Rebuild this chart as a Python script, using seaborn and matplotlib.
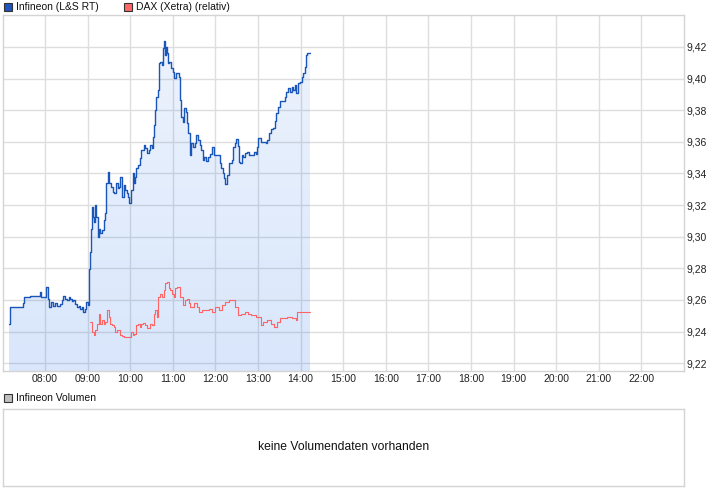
import numpy as np
import pandas as pd
import matplotlib
matplotlib.use("Agg")
import matplotlib.pyplot as plt
from matplotlib.patches import Rectangle
import seaborn as sns

# Infineon (L&S RT): minutes after 07:00 and price
inf_min = [9.2, 10.1, 11.1, 27.1, 28.5, 30.3, 38.8, 52.0, 52.9, 54.4, 61.0, 61.9, 63.8, 66.1,
           68.5, 70.8, 74.1, 77.4, 81.2, 84.5, 85.9, 88.2, 90.6, 93.0, 95.3, 97.6, 100.0,
           102.4, 104.7, 107.1, 109.4, 111.8, 114.1, 116.5, 117.9, 119.8, 121.2, 122.6,
           124.5, 125.9, 127.3, 128.7, 130.6, 132.0, 133.9, 135.3, 137.6, 140.0, 142.4,
           144.7, 146.1, 148.5, 150.3, 152.7, 155.1, 157.4, 160.2, 162.1, 164.5, 165.9,
           168.2, 170.6, 173.0, 175.3, 177.2, 178.6, 181.0, 183.3, 184.7, 186.1, 188.5,
           190.8, 193.2, 195.5, 198.8, 201.2, 203.5, 205.9, 208.2, 210.6, 212.0, 213.9,
           215.3, 216.7, 218.6, 220.0, 222.4, 224.7, 226.1, 227.1, 228.5, 229.9, 231.3,
           233.2, 235.1, 237.4, 239.8, 242.1, 244.5, 246.8, 248.2, 249.6, 251.5, 253.9,
           256.2, 258.6, 260.0, 261.4, 263.8, 265.6, 268.0, 270.8, 273.2, 275.1, 277.9,
           280.2, 282.1, 284.5, 286.8, 289.6, 292.0, 295.3, 297.6, 303.3, 305.7, 308.0,
           310.4, 312.7, 314.1, 316.5, 318.4, 320.2, 322.6, 325.0, 327.3, 329.2, 331.1,
           333.0, 334.8, 336.7, 339.1, 341.4, 343.8, 347.1, 350.8, 354.1, 356.5, 358.8,
           360.2, 363.5, 367.3, 370.6, 373.0, 375.3, 378.6, 381.4, 383.3, 385.7, 388.0,
           390.8, 394.1, 397.4, 399.8, 402.6, 404.9, 407.3, 409.7, 412.0, 413.9, 416.2,
           419.1, 421.4, 423.3, 425.7, 427.5, 429.4, 431.3, 432.7]
inf_val = [9.2451, 9.2504, 9.2557, 9.2557, 9.2578, 9.2620, 9.2624, 9.2624, 9.2652, 9.2620,
           9.2620, 9.2679, 9.2609, 9.2557, 9.2588, 9.2561, 9.2582, 9.2561, 9.2574, 9.2599,
           9.2624, 9.2609, 9.2599, 9.2620, 9.2609, 9.2595, 9.2599, 9.2574, 9.2557, 9.2561,
           9.2540, 9.2553, 9.2525, 9.2546, 9.2588, 9.2567, 9.2799, 9.2905, 9.3052, 9.3190,
           9.3126, 9.3094, 9.3200, 9.3126, 9.2999, 9.3052, 9.3021, 9.3042, 9.3105, 9.3147,
           9.3337, 9.3411, 9.3337, 9.3316, 9.3284, 9.3274, 9.3337, 9.3305, 9.3316, 9.3379,
           9.3253, 9.3327, 9.3295, 9.3274, 9.3253, 9.3211, 9.3295, 9.3400, 9.3337, 9.3379,
           9.3432, 9.3453, 9.3495, 9.3548, 9.3580, 9.3559, 9.3527, 9.3548, 9.3580, 9.3559,
           9.3633, 9.3706, 9.3801, 9.3886, 9.3928, 9.4097, 9.4107, 9.4086, 9.4192, 9.4240,
           9.4149, 9.4202, 9.4160, 9.4097, 9.4107, 9.4065, 9.4044, 9.4002, 9.4033, 9.4033,
           9.4012, 9.3865, 9.3759, 9.3728, 9.3812, 9.3791, 9.3717, 9.3654, 9.3517, 9.3590,
           9.3565, 9.3590, 9.3643, 9.3612, 9.3580, 9.3548, 9.3485, 9.3506, 9.3481, 9.3506,
           9.3523, 9.3570, 9.3517, 9.3517, 9.3464, 9.3432, 9.3405, 9.3369, 9.3333, 9.3390,
           9.3464, 9.3468, 9.3485, 9.3570, 9.3590, 9.3616, 9.3574, 9.3474, 9.3468, 9.3517,
           9.3506, 9.3527, 9.3538, 9.3517, 9.3517, 9.3538, 9.3523, 9.3570, 9.3622, 9.3601,
           9.3601, 9.3590, 9.3612, 9.3654, 9.3679, 9.3685, 9.3734, 9.3780, 9.3822, 9.3860,
           9.3860, 9.3886, 9.3917, 9.3938, 9.3917, 9.3949, 9.3928, 9.3959, 9.3907, 9.3970,
           9.3981, 9.4012, 9.4033, 9.4076, 9.4149, 9.4160, 9.4164, 9.4164]

# DAX (Xetra), relative to Infineon scale
dax_min = [123.5, 125.9, 128.2, 130.6, 133.0, 135.3, 137.7, 140.0, 142.4, 144.7, 147.1, 149.4,
           151.8, 154.1, 156.5, 158.8, 161.2, 164.9, 168.2, 171.5, 175.3, 179.1, 180.9, 183.3,
           185.7, 188.0, 190.4, 193.2, 195.5, 197.9, 200.2, 203.5, 207.3, 210.6, 213.0, 215.3,
           217.7, 219.5, 221.4, 224.7, 227.1, 229.4, 231.8, 234.1, 236.5, 238.8, 241.2, 243.5,
           245.9, 249.6, 254.4, 257.6, 260.0, 262.4, 264.7, 269.4, 274.1, 276.5, 281.2, 285.9,
           290.6, 295.3, 300.0, 304.7, 309.4, 314.1, 318.8, 323.5, 328.2, 331.5, 336.2, 341.0,
           345.7, 350.4, 356.5, 361.2, 363.5, 367.3, 372.0, 377.7, 382.4, 386.1, 390.8, 396.5,
           401.2, 408.2, 412.9, 415.3, 420.0, 432.7]
dax_val = [9.2462, 9.2398, 9.2377, 9.2409, 9.2451, 9.2514, 9.2451, 9.2472, 9.2451, 9.2462,
           9.2536, 9.2493, 9.2451, 9.2441, 9.2430, 9.2398, 9.2409, 9.2377, 9.2371, 9.2363,
           9.2367, 9.2367, 9.2398, 9.2377, 9.2388, 9.2441, 9.2451, 9.2430, 9.2451, 9.2456,
           9.2441, 9.2426, 9.2451, 9.2441, 9.2514, 9.2536, 9.2493, 9.2620, 9.2641, 9.2620,
           9.2662, 9.2705, 9.2715, 9.2673, 9.2662, 9.2641, 9.2620, 9.2673, 9.2684, 9.2620,
           9.2567, 9.2599, 9.2609, 9.2578, 9.2557, 9.2578, 9.2557, 9.2525, 9.2536, 9.2536,
           9.2546, 9.2525, 9.2557, 9.2536, 9.2567, 9.2588, 9.2599, 9.2603, 9.2557, 9.2504,
           9.2514, 9.2525, 9.2514, 9.2504, 9.2493, 9.2493, 9.2441, 9.2462, 9.2472, 9.2451,
           9.2430, 9.2462, 9.2483, 9.2483, 9.2493, 9.2483, 9.2472, 9.2525, 9.2525, 9.2525]

hour_ticks = list(range(8, 23))
hour_labels = [f"{h:02d}:00" for h in hour_ticks]
price_ticks = [9.22, 9.24, 9.26, 9.28, 9.30, 9.32, 9.34, 9.36, 9.38, 9.40, 9.42]

inf = pd.DataFrame({"hour": 7 + np.array(inf_min) / 60, "price": inf_val})
dax = pd.DataFrame({"hour": 7 + np.array(dax_min) / 60, "price": dax_val})

sns.set_style("white")
plt.rcParams["font.family"] = ["Liberation Sans", "DejaVu Sans"]
plt.rcParams["font.size"] = 7.5

W, H = 726, 496
fig = plt.figure(figsize=(W / 100, H / 100), dpi=100)
ax = fig.add_axes([2.5 / W, 1 - 371 / H, (684 - 2.5) / W, (371 - 15) / H])
ax_vol = fig.add_axes([2.5 / W, 1 - 486 / H, (684 - 2.5) / W, (486 - 409) / H])

ymin, ymax = 9.2151, 9.4402
ax.set_xlim(7, 23)
ax.set_ylim(ymin, ymax)
ax.set_xticks(hour_ticks)
ax.set_xticklabels(hour_labels)
ax.set_yticks(price_ticks)
ax.set_yticklabels([f"{v:.2f}".replace(".", ",") for v in price_ticks])
ax.yaxis.tick_right()
ax.tick_params(length=0, pad=2, labelsize=7.5, colors="#222222")
ax.grid(True, color="#dedede", linewidth=1)
ax.set_axisbelow(True)
for s in ax.spines.values():
    s.set_color("#d4d4d4")
    s.set_linewidth(1)

# gradient fill under Infineon line
poly = ax.fill_between(inf["hour"], inf["price"], ymin, step="post", facecolor="none", edgecolor="none")
grad = np.zeros((100, 1, 4))
grad[..., 0] = 0.16
grad[..., 1] = 0.45
grad[..., 2] = 0.92
grad[..., 3] = np.linspace(0.18, 0.09, 100)[:, None]
img = ax.imshow(grad, extent=[7, 23, ymin, 9.42], aspect="auto", origin="lower",
                zorder=1.5, interpolation="bilinear")
img.set_clip_path(poly.get_paths()[0], transform=ax.transData)
ax.set_xlim(7, 23)
ax.set_ylim(ymin, ymax)

sns.lineplot(data=dax, x="hour", y="price", ax=ax, color="#ff6464", linewidth=0.8,
             drawstyle="steps-post", estimator=None, sort=False, zorder=3)
sns.lineplot(data=inf, x="hour", y="price", ax=ax, color="#1a55b8", linewidth=1.0,
             drawstyle="steps-post", estimator=None, sort=False, zorder=4)
ax.set_xlabel("")
ax.set_ylabel("")

# volume panel
ax_vol.set_xticks([])
ax_vol.set_yticks([])
for s in ax_vol.spines.values():
    s.set_color("#d4d4d4")
    s.set_linewidth(1)
ax_vol.text(0.5, 0.5, "keine Volumendaten vorhanden", transform=ax_vol.transAxes,
            ha="center", va="center", fontsize=8.7, color="#111111")

# legends drawn in figure pixels
def legend_box(x, y, color, label):
    fig.add_artist(Rectangle((x / W, 1 - (y + 8) / H), 8 / W, 8 / H, transform=fig.transFigure,
                             facecolor=color, edgecolor="#333333", linewidth=0.8))
    fig.text((x + 12) / W, 1 - (y + 4.5) / H, label, ha="left", va="center",
             fontsize=7.5, color="#111111")

legend_box(3.5, 2.5, "#1f55c0", "Infineon (L&S RT)")
legend_box(123.5, 2.5, "#ff6666", "DAX (Xetra) (relativ)")
legend_box(3.5, 393.5, "#c0c0c0", "Infineon Volumen")

fig.savefig("out.png", dpi=100)
